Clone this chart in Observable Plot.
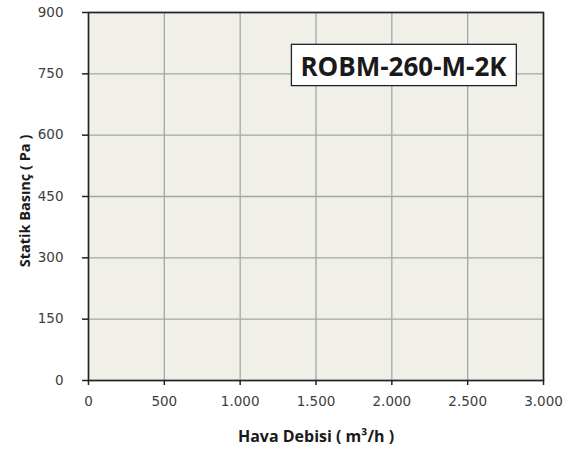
<!DOCTYPE html>
<html>
<head>
<meta charset="utf-8">
<script src="https://cdn.jsdelivr.net/npm/d3@7"></script>
<script src="https://cdn.jsdelivr.net/npm/@observablehq/plot@0.6"></script>
<style>
  html, body { margin: 0; padding: 0; background: #ffffff; }
  #chart { width: 568px; height: 449px; }
</style>
</head>
<body>
<div id="chart"></div>
<script>
// Data
const xTicks = [0, 500, 1000, 1500, 2000, 2500, 3000];
const yTicks = [0, 150, 300, 450, 600, 750, 900];
const xDomain = [0, 3000];
const yDomain = [0, 900];
const modelLabel = ["ROBM-260-M-2K"];
const xTitle = ["Hava Debisi ( m³/h )"];
const yTitle = ["Statik Basınç ( Pa )"];

const fmt = d => d3.format(",")(d).replace(/,/g, ".");
const titleFont = "'Open Sans', sans-serif";

const plot = Plot.plot({
  width: 568,
  height: 449,
  marginLeft: 88,
  marginRight: 25,
  marginTop: 12,
  marginBottom: 69,
  style: { background: "#ffffff", fontFamily: "DejaVu Sans, sans-serif" },
  x: { domain: xDomain, ticks: xTicks },
  y: { domain: yDomain, ticks: yTicks },
  marks: [
    Plot.frame({ fill: "#f0f0e8", stroke: "none" }),
    Plot.gridX(xTicks, { stroke: "#a6a6a6", strokeOpacity: 1, strokeWidth: 1.3 }),
    Plot.gridY(yTicks, { stroke: "#a6a6a6", strokeOpacity: 1, strokeWidth: 1.3 }),
    Plot.axisX(xTicks, {
      tickSize: 5, tickPadding: 11, tickFormat: fmt, label: null,
      fontSize: 13.5, fill: "#404040", stroke: "#222", strokeWidth: 1.5
    }),
    Plot.axisY(yTicks, {
      tickSize: 6, tickPadding: 19, tickFormat: fmt, label: null,
      fontSize: 13.5, fill: "#404040", stroke: "#222", strokeWidth: 1.5
    }),
    Plot.frame({ stroke: "#222", strokeWidth: 1.6 }),
    Plot.text(xTitle, {
      text: d => d, frameAnchor: "bottom", textAnchor: "middle", lineAnchor: "middle", dy: 56,
      fontFamily: titleFont, fontWeight: "bold", fontSize: 16, fill: "#1a1a1a"
    }),
    Plot.text(yTitle, {
      text: d => d, frameAnchor: "left", textAnchor: "middle", lineAnchor: "middle",
      dx: -63, dy: 4.5, rotate: -90,
      fontFamily: titleFont, fontWeight: "bold", fontSize: 14.5, fill: "#1a1a1a"
    }),
    Plot.text(modelLabel, {
      text: d => d, frameAnchor: "top-right", textAnchor: "middle", lineAnchor: "middle",
      dx: -140, dy: 55, className: "model-label",
      fontFamily: titleFont, fontWeight: "bold", fontSize: 26, fill: "#1a1a1a"
    })
  ]
});

document.getElementById("chart").appendChild(plot);

// Box around the model label
const g = plot.querySelector(".model-label");
if (g) {
  const t = g.querySelector("text");
  const bb = t.getBBox();
  const padL = 9, padR = 9, padT = 3.5, padB = 1.8;
  const rect = document.createElementNS("http://www.w3.org/2000/svg", "rect");
  rect.setAttribute("x", bb.x - padL);
  rect.setAttribute("y", bb.y - padT);
  rect.setAttribute("width", bb.width + padL + padR);
  rect.setAttribute("height", bb.height + padT + padB);
  rect.setAttribute("fill", "#ffffff");
  rect.setAttribute("stroke", "#222");
  rect.setAttribute("stroke-width", "1.3");
  const tr = t.getAttribute("transform");
  if (tr) rect.setAttribute("transform", tr);
  t.parentNode.insertBefore(rect, t);
}
</script>
</body>
</html>
